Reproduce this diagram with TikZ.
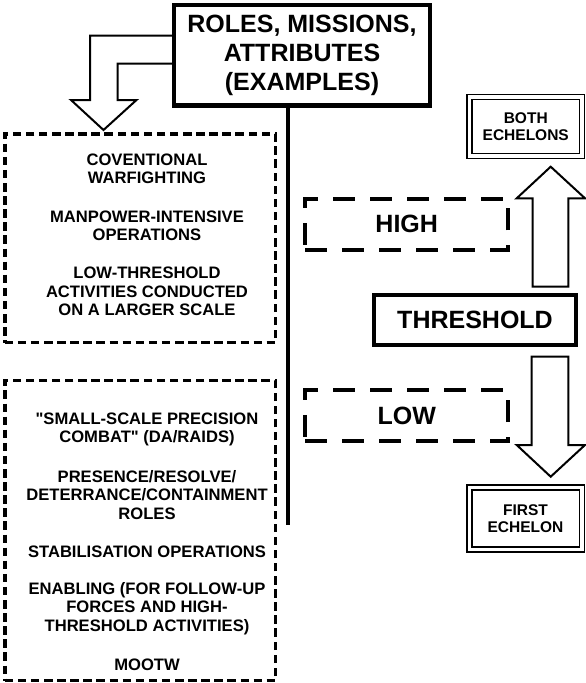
\documentclass[tikz,border=0pt]{standalone}
\usepackage{fontspec}
\setmainfont{Liberation Sans}
\newfontfamily\qfont{Liberation Sans}
\newcommand{\sq}{{\qfont"}}
\begin{document}
\begin{tikzpicture}[x=1pt,y=-1pt,
  every node/.style={inner sep=0pt,outer sep=0pt,align=center,font=\bfseries},
  bigtxt/.style={font=\fontsize{25}{29}\selectfont\bfseries},
  itemtxt/.style={font=\fontsize{16.6}{18.3}\selectfont\bfseries},
  echtxt/.style={font=\fontsize{15.5}{17.5}\selectfont\bfseries},
  solidbox/.style={draw,line width=4.5pt,rectangle},
  smalldash/.style={draw,line width=3.8pt,dash pattern=on 8.5pt off 4.6pt},
  bigdash/.style={draw,line width=4pt,dash pattern=on 22pt off 15pt,minimum width=202.7pt,minimum height=51pt},
  dblbox/.style={draw,double,line width=1.5pt,double distance=3.5pt,minimum width=112.5pt},
  hollow/.style={draw,line width=2pt,line join=miter}
]
\useasboundingbox (0,0) rectangle (586,683);

% title box
\node[solidbox,bigtxt,minimum width=256pt,minimum height=100.5pt] (title) at (302,55.25)
  {ROLES, MISSIONS,\\ATTRIBUTES\\(EXAMPLES)};

% vertical line
\coordinate (vend) at (287.5,525);
\draw[line width=4pt] (title.south -| vend) -- (vend);

% hollow arrow from title box into upper dashed box
\draw[hollow] (title.west |- 0,35.5) -- (90,35.5) -- (90,100) -- (71,100) -- (103.5,130)
  -- (136.5,100) -- (117.5,100) -- (117.5,63.5) -- (title.west |- 0,63.5);

% dashed boxes on the left
\node[smalldash,minimum width=270.8pt,minimum height=208.5pt] (box1) at (140.1,238.25) {};
\node[smalldash,minimum width=270.8pt,minimum height=300pt] (box2) at (140.1,530.5) {};

\node[itemtxt] (a1) at (147,169) {COVENTIONAL\\WARFIGHTING};
\node[itemtxt] (a2) at (147,226) {MANPOWER-INTENSIVE\\OPERATIONS};
\node[itemtxt] (a3) at (147,291.5) {LOW-THRESHOLD\\ACTIVITIES CONDUCTED\\ON A LARGER SCALE};

\node[itemtxt] (b1) at (147,429.5) {\sq SMALL-SCALE PRECISION\\COMBAT\sq\ (DA/RAIDS)};
\node[itemtxt] (b2) at (147,495) {PRESENCE/RESOLVE/\\DETERRANCE/CONTAINMENT\\ROLES};
\node[itemtxt] (b3) at (147,552) {STABILISATION OPERATIONS};
\node[itemtxt] (b4) at (147,608.5) {ENABLING (FOR FOLLOW-UP\\FORCES AND HIGH-\\THRESHOLD ACTIVITIES)};
\node[itemtxt] (b5) at (147,665) {MOOTW};

% right side
\node[dblbox,echtxt,minimum height=59pt] (both) at (525.75,126.5) {BOTH\\ECHELONS};
\node[dblbox,echtxt,minimum height=62pt] (first) at (525.5,518.5) {FIRST\\ECHELON};

\node[draw,line width=4pt,minimum width=202.6pt,minimum height=49.4pt,bigtxt] (thr) at (475,320) {THRESHOLD};

\node[bigdash,bigtxt] (high) at (406.7,224.2) {HIGH};
\node[bigdash,bigtxt] (low) at (406.7,415.8) {LOW};

% block arrows
\draw[hollow] (532.7,286.7) -- (532.7,198.3) -- (516.7,198.3) -- (550.7,166.7)
  -- (585,198.3) -- (568.3,198.3) -- (568.3,286.7) -- cycle;
\draw[hollow] (531.7,356.7) -- (531.7,445) -- (516.7,445) -- (550.7,476.7)
  -- (585,445) -- (568.3,445) -- (568.3,356.7) -- cycle;
\end{tikzpicture}
\end{document}
